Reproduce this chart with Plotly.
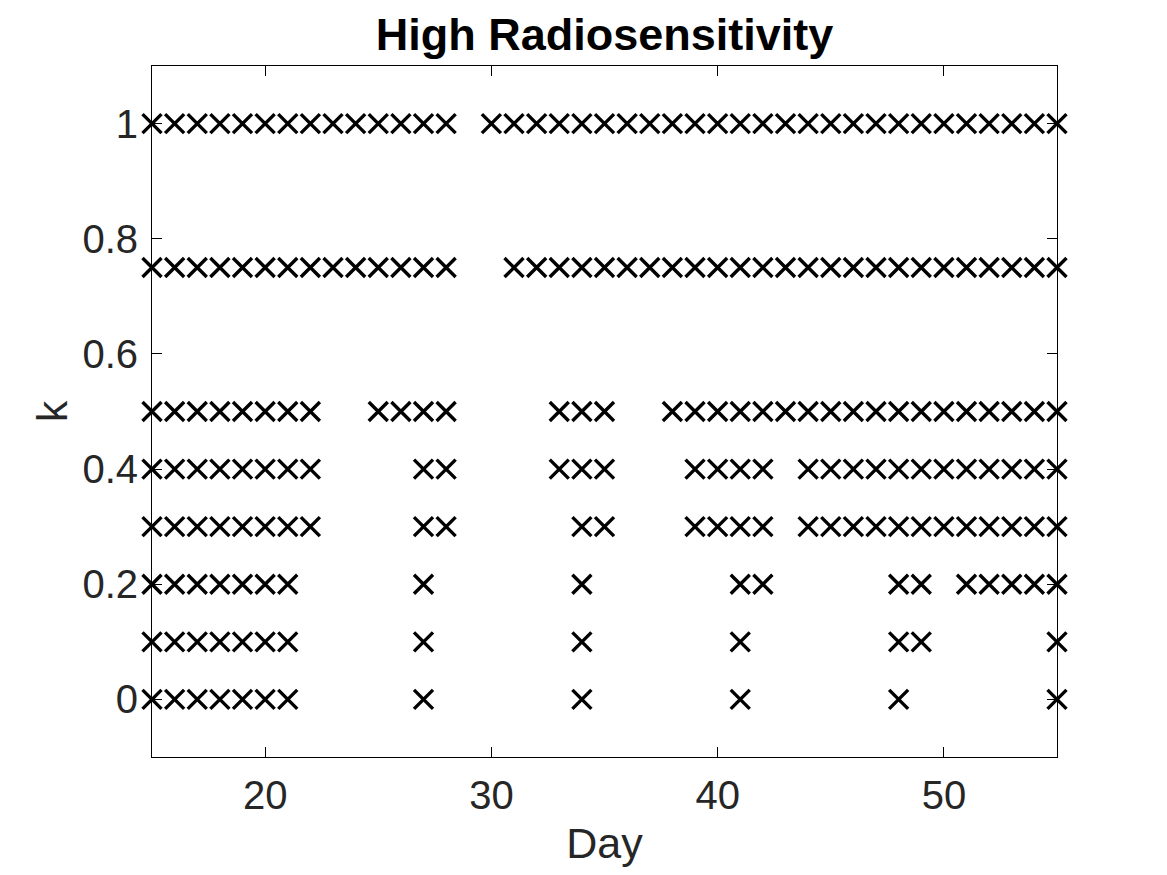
import plotly.graph_objects as go

# days at which each k value is present
k_levels = [1.0, 0.75, 0.5, 0.4, 0.3, 0.2, 0.1, 0.0]
days_k100 = list(range(15, 29)) + list(range(30, 56))
days_k075 = list(range(15, 29)) + list(range(31, 56))
days_k050 = list(range(15, 23)) + [25, 26, 27, 28, 33, 34, 35] + list(range(38, 56))
days_k040 = list(range(15, 23)) + [27, 28, 33, 34, 35, 39, 40, 41, 42] + list(range(44, 56))
days_k030 = list(range(15, 23)) + [27, 28, 34, 35, 39, 40, 41, 42] + list(range(44, 56))
days_k020 = list(range(15, 22)) + [27, 34, 41, 42, 48, 49, 51, 52, 53, 54, 55]
days_k010 = list(range(15, 22)) + [27, 34, 41, 48, 49, 55]
days_k000 = list(range(15, 22)) + [27, 34, 41, 48, 55]

rows = [days_k100, days_k075, days_k050, days_k040,
        days_k030, days_k020, days_k010, days_k000]

xs, ys = [], []
for k, days in zip(k_levels, rows):
    xs += days
    ys += [k] * len(days)

FONT = "Liberation Sans, Arial, Helvetica, sans-serif"
TXT = "#262626"
W, H = 1151, 859  # page body has an 8px margin

fig = go.Figure(go.Scatter(
    x=xs, y=ys, mode="markers",
    marker=dict(symbol="x-thin", size=19, color="black",
                line=dict(color="black", width=3.4)),
    cliponaxis=False,
    showlegend=False,
))

axis_common = dict(
    showline=True, linecolor="black", linewidth=1, mirror="ticks",
    ticks="inside", ticklen=10, tickwidth=1, tickcolor="black",
    showgrid=False, zeroline=False, automargin=False,
    tickfont=dict(family=FONT, size=40, color=TXT),
)

fig.update_layout(
    width=W, height=H,
    margin=dict(l=144, r=102, t=58, b=110),
    plot_bgcolor="white", paper_bgcolor="white",
    title=dict(text="<b>High Radiosensitivity</b>", xref="paper", x=0.5,
               xanchor="center", y=1 - 26 / H, yanchor="middle",
               font=dict(family=FONT, size=45, color="black")),
    xaxis=dict(range=[15, 55], tickvals=[20, 30, 40, 50],
               title=dict(text="Day", font=dict(family=FONT, size=43, color=TXT),
                          standoff=25),
               ticklabelstandoff=3,
               **axis_common),
    yaxis=dict(range=[-0.1, 1.1], tickvals=[0, 0.2, 0.4, 0.6, 0.8, 1],
               ticktext=["0", "0.2", "0.4", "0.6", "0.8", "1"],
               title=dict(text="k", font=dict(family=FONT, size=43, color=TXT),
                          standoff=1),
               ticklabelstandoff=5,
               **axis_common),
)

fig.write_html("out.html")
